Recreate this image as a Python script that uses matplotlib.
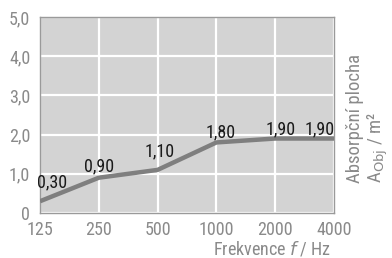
import matplotlib
matplotlib.use('Agg')
import matplotlib.pyplot as plt
from matplotlib import font_manager

# data
freqs = ['125', '250', '500', '1000', '2000', '4000']
values = [0.30, 0.90, 1.10, 1.80, 1.90, 1.90]
labels = ['0,30', '0,90', '1,10', '1,80', '1,90', '1,90']
yticks = [0, 1, 2, 3, 4, 5]
ytick_labels = ['0', '1,0', '2,0', '3,0', '4,0', '5,0']

names = {f.name for f in font_manager.fontManager.ttflist}
fam = 'DejaVu Sans'
for cand in ['Liberation Sans Narrow', 'Roboto Condensed', 'DejaVu Sans Condensed']:
    if cand in names:
        fam = cand
        break
plt.rcParams['font.family'] = [fam, 'DejaVu Sans']

tick_col = '#8a8a8a'

fig = plt.figure(figsize=(3.92, 2.58), dpi=100)
ax = fig.add_axes([40/392, 1 - 213/258, 294/392, 196/258])
ax.set_facecolor('#d3d3d3')

x = list(range(len(freqs)))
ax.plot(x, values, color='#7f7f7f', lw=3.2, solid_capstyle='butt', zorder=3)

ax.set_xlim(0, len(freqs) - 1)
ax.set_ylim(0, 5)
ax.set_xticks(x)
ax.set_xticklabels(freqs)
ax.set_yticks(yticks)
ax.set_yticklabels(ytick_labels)
ax.grid(True, color='white', lw=1.6, zorder=1)
ax.set_axisbelow(True)
ax.tick_params(length=0, colors=tick_col, labelsize=13)
ax.tick_params(axis='y', pad=7)
ax.tick_params(axis='x', pad=6)
for s in ax.spines.values():
    s.set_color('#9a9a9a')
    s.set_linewidth(1.0)

# value labels (offsets in pixels from the point to the text baseline)
offsets = [(12, 14), (0, 6), (2, 14), (4, 5), (5, 4), (-14, 4)]
for xi, v, t, off in zip(x, values, labels, offsets):
    ax.annotate(t, (xi, v), xytext=off, textcoords='offset pixels',
                ha='center', va='baseline', fontsize=13, color='#1a1a1a',
                zorder=4)

fig.text(331/392, 1 - 249/258, 'Frekvence $\\it{f}$ / Hz', ha='right', va='center',
         fontsize=13, color=tick_col)
fig.text(368/392, 1 - 183/258, 'Absorpční plocha\nA$_{\\mathrm{Obj}}$ / m²',
         rotation=90, ha='center', va='bottom', multialignment='left',
         fontsize=13.5, color=tick_col, linespacing=1.05)

plt.savefig('out.png', dpi=100)
